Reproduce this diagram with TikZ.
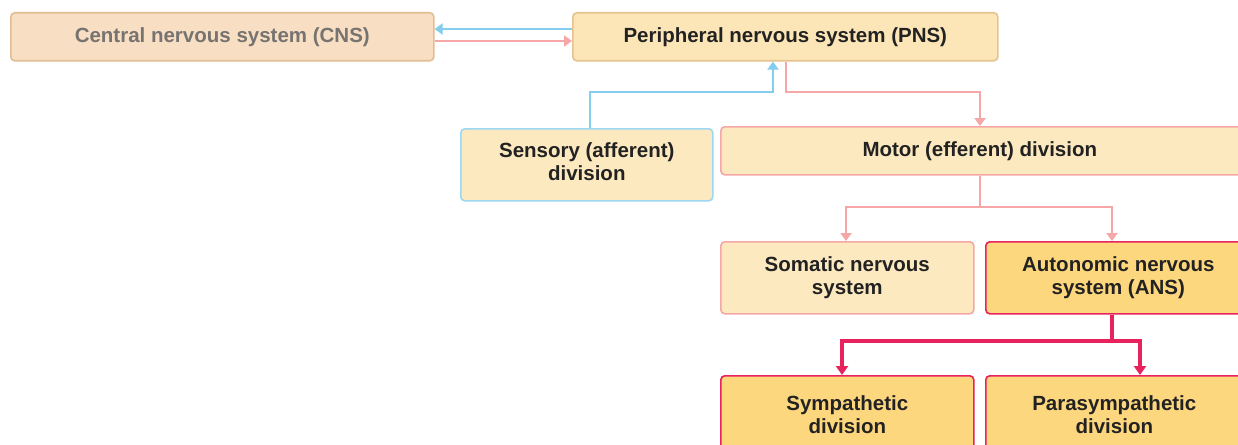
\documentclass[tikz,border=0pt]{standalone}
\usepackage{fontspec}
\setmainfont{Liberation Sans}
\usetikzlibrary{arrows.meta}
\definecolor{cnsfill}{HTML}{F8DFC4}
\definecolor{cnsdraw}{HTML}{E2BC94}
\definecolor{pnsfill}{HTML}{FCE6B7}
\definecolor{pnsdraw}{HTML}{E6C290}
\definecolor{lightfill}{HTML}{FDE9BF}
\definecolor{deepfill}{HTML}{FDD77D}
\definecolor{bluel}{HTML}{84CDEE}
\definecolor{pinkl}{HTML}{F4A7A6}
\definecolor{crim}{HTML}{E8225C}
\definecolor{txt}{HTML}{222222}
\definecolor{cnstxt}{HTML}{777370}
\tikzset{
  box/.style={draw, rounded corners=4pt, line width=1.6pt, align=center, inner sep=0pt,
    font=\fontsize{20.5}{23}\selectfont\bfseries, text=txt, anchor=north west},
  bluearrow/.style={draw=bluel, line width=2.8pt, -{Triangle[width=11pt,length=8pt]}},
  pinkarrow/.style={draw=pinkl, line width=2.8pt, -{Triangle[width=11pt,length=8pt]}},
  crimarrow/.style={draw=crim, line width=3.4pt, -{Triangle[width=12pt,length=9pt]}},
}
\begin{document}
\begin{tikzpicture}[x=1pt,y=-1pt]
\useasboundingbox (0,0) rectangle (1238,444);
\fill[white] (0,0) rectangle (1238,444);
% nodes
\node[box, fill=cnsfill, draw=cnsdraw, text=cnstxt, minimum width=423pt, minimum height=48pt] (cns) at (10,12) {Central nervous system (CNS)};
\node[box, fill=pnsfill, draw=pnsdraw, minimum width=425pt, minimum height=48pt] (pns) at (572,12) {Peripheral nervous system (PNS)};
\node[box, fill=lightfill, draw=bluel!80, minimum width=252pt, minimum height=72pt] (sens) at (460,128) {\raisebox{3pt}{\begin{tabular}{@{}c@{}}Sensory (afferent)\\division\end{tabular}}};
\node[box, fill=lightfill, draw=pinkl, minimum width=530pt, minimum height=48pt] (motor) at (720,126) {\hspace*{-12pt}Motor (efferent) division};
\node[box, fill=lightfill, draw=pinkl, minimum width=253pt, minimum height=72pt] (som) at (720,241) {Somatic nervous\\system};
\node[box, fill=deepfill, draw=crim, minimum width=265pt, minimum height=72pt] (ans) at (985,241) {Autonomic nervous\\system (ANS)};
\node[box, fill=deepfill, draw=crim, minimum width=253pt, minimum height=77pt] (sym) at (720,375) {Sympathetic\\division};
\node[box, fill=deepfill, draw=crim, minimum width=265pt, minimum height=77pt] (para) at (985,375) {\hspace*{-8pt}Parasympathetic\\\hspace*{-8pt}division};
% coordinates
\coordinate (jA) at (590,92);
\coordinate (jB) at (773,92);
\coordinate (jC) at (786,92);
\coordinate (jD) at (980,92);
\coordinate (jM) at (980,207);
\coordinate (jE) at (846,207);
\coordinate (jF) at (1112,207);
\coordinate (jN) at (1112,341);
\coordinate (jG) at (842,341);
\coordinate (jH) at (1140,341);
% connectors
\draw[bluearrow] (pns.west |- 0,29) -- (cns.east |- 0,29);
\draw[pinkarrow] (cns.east |- 0,41) -- (pns.west |- 0,41);
\draw[bluearrow] (sens.north -| jA) -- (jA) -- (jB) -- (pns.south -| jB);
\draw[pinkarrow] (pns.south -| jC) -- (jC) -- (jD) -- (motor.north -| jD);
\draw[pinkl, line width=2.8pt] (motor.south -| jM) -- (jM);
\draw[pinkarrow] (jM) -- (jE) -- (som.north -| jE);
\draw[pinkarrow] (jM) -- (jF) -- (ans.north -| jF);
\draw[crim, line width=3.4pt] (ans.south -| jN) -- (jN);
\draw[crimarrow] (jN) -- (jG) -- (sym.north -| jG);
\draw[crimarrow] (jN) -- (jH) -- (para.north -| jH);
\end{tikzpicture}
\end{document}
